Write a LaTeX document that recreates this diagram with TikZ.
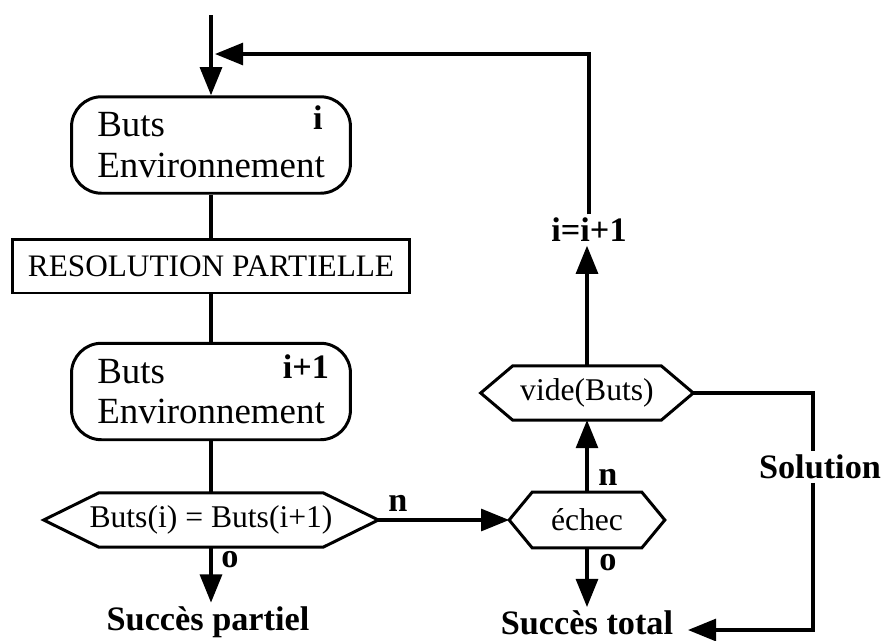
\documentclass[tikz,border=0pt]{standalone}
\usepackage{fontspec}
\setmainfont{Liberation Serif}
\usepackage{tikz}
\usetikzlibrary{arrows.meta}

\tikzset{
    boite/.style={draw, line width=1.7pt, rounded corners=0.6cm, minimum width=5.58cm, minimum height=1.93cm, align=left, font=\fontsize{21}{23}\selectfont},
    cadre/.style={draw, line width=1.7pt, minimum width=7.94cm, minimum height=1.08cm, font=\fontsize{17.8}{20}\selectfont},
    test/.style={minimum height=1.07cm, inner sep=0pt, font=\fontsize{18}{21}\selectfont},
    etiq/.style={font=\bfseries\fontsize{19.5}{22}\selectfont, inner sep=2pt},
    trait/.style={line width=1.8pt},
    fleche/.style={line width=1.8pt, -{Triangle[length=16pt, width=12.5pt]}}
}

\begin{document}
\begin{tikzpicture}[x=0.02cm, y=-0.02cm]
                \useasboundingbox (0,0) rectangle (887,640);

                \coordinate (debut) at (211,15);
                \coordinate (retour) at (215,54);
                \coordinate (haut) at (589,54);
                \coordinate (coin1) at (813,393);
                \coordinate (coin2) at (813,630);
                \coordinate (fin) at (688,630);

                \node[boite] (buts1) at (211,145) {Buts\\Environnement};
                \node[etiq] (indice1) at (318,118) {i};
                \node[cadre] (resol) at (211,266) {RESOLUTION PARTIELLE};
                \node[boite] (buts2) at (211,391.5) {Buts\\Environnement};
                \node[etiq] (indice2) at (306,367) {i+1};

                \node[test, minimum width=6.68cm] (egal) at (211,520) {Buts(i) = Buts(i+1)};
                \node[test, minimum width=3.1cm, minimum height=1.1cm] (echec) at (587,520) {échec};
                \node[test, minimum width=4.24cm] (vide) at (587,393) {vide(Buts)};

                \node[etiq] (incr) at (589,230) {i=i+1};
                \node[etiq] (partiel) at (208,622) {Succès partiel};
                \node[etiq] (total) at (587,623) {Succès total};
                \node[etiq] (solution) at (820,467) {Solution};

                \node[etiq] (n1) at (398,503) {n};
                \node[etiq] (n2) at (608,477) {n};
                \node[etiq] (o1) at (230,560) {o};
                \node[etiq] (o2) at (608,563) {o};

                \draw[line width=1.7pt] (egal.west) -- ([xshift=1.1cm]egal.north west) -- ([xshift=-1.1cm]egal.north east) -- (egal.east) -- ([xshift=-1.1cm]egal.south east) -- ([xshift=1.1cm]egal.south west) -- cycle;
                \draw[line width=1.7pt] (echec.west) -- ([xshift=0.46cm]echec.north west) -- ([xshift=-0.46cm]echec.north east) -- (echec.east) -- ([xshift=-0.46cm]echec.south east) -- ([xshift=0.46cm]echec.south west) -- cycle;
                \draw[line width=1.7pt] (vide.west) -- ([xshift=0.64cm]vide.north west) -- ([xshift=-0.64cm]vide.north east) -- (vide.east) -- ([xshift=-0.64cm]vide.south east) -- ([xshift=0.64cm]vide.south west) -- cycle;

                \draw[fleche] (debut) -- (buts1.north);
                \draw[trait] (buts1.south) -- (resol.north);
                \draw[trait] (resol.south) -- (buts2.north);
                \draw[trait] (buts2.south) -- (egal.north);
                \draw[fleche] (egal.south) -- (egal.south |- partiel.north);
                \draw[fleche] (egal.east) -- (echec.west);
                \draw[fleche] (echec.north) -- (vide.south);
                \draw[fleche] (echec.south) -- (total.north);
                \draw[fleche] (vide.north) -- (vide.north |- incr.south);
                \draw[fleche] (incr.north) -- (haut) -- (retour);
                \draw[trait] (vide.east) -- (coin1) -- (coin1 |- solution.north);
                \draw[fleche] (coin1 |- solution.south) -- (coin2) -- (fin);
            \end{tikzpicture}
\end{document}
